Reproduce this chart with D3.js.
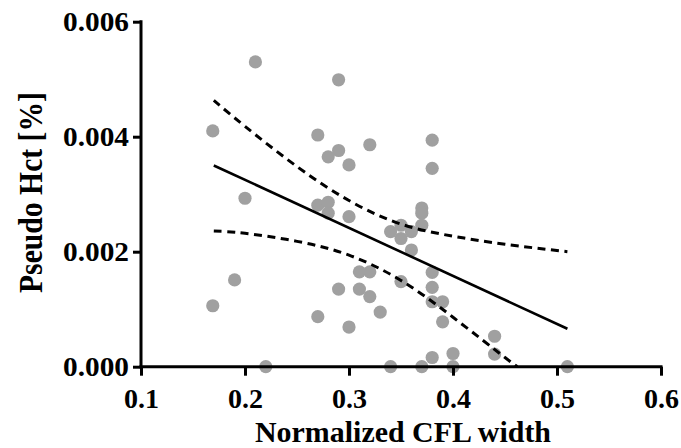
<!DOCTYPE html>
<html>
<head>
<meta charset="utf-8">
<script src="https://cdn.jsdelivr.net/npm/d3@7"></script>
<style>
  html, body { margin: 0; padding: 0; background: #fff; }
  svg { display: block; }
  text { font-family: "Liberation Serif", "Times New Roman", serif; font-weight: bold; fill: #000; }
</style>
</head>
<body>
<svg id="chart" width="681" height="448"></svg>
<script>
// ---- data ----
const xValues = [0.169,0.169,0.190,0.200,0.210,0.220,0.270,0.270,0.270,0.280,0.280,0.280,
  0.290,0.290,0.290,0.300,0.300,0.300,0.310,0.310,0.320,0.320,0.320,0.330,0.340,0.340,
  0.350,0.350,0.350,0.360,0.360,0.370,0.370,0.370,0.370,0.380,0.380,0.380,0.380,0.380,
  0.380,0.390,0.390,0.400,0.400,0.440,0.440,0.510];
const yValues = [0.00410,0.00106,0.00151,0.00293,0.00530,0.0,0.00403,0.00281,0.00087,0.00365,0.00286,0.00267,
  0.00499,0.00376,0.00135,0.00351,0.00261,0.00069,0.00165,0.00135,0.00386,0.00165,0.00122,0.00095,0.00235,0.0,
  0.00246,0.00223,0.00148,0.00235,0.00203,0.00276,0.00267,0.00246,0.0,0.00394,0.00345,0.00164,0.00138,0.00113,
  0.00016,0.00113,0.00078,0.00023,0.0,0.00053,0.00022,0.0];
const fitX = [0.17, 0.51];
const fitY = [0.00350, 0.00066];
const upperX = [0.17,0.20,0.25,0.30,0.35,0.40,0.45,0.51];
const upperY = [0.00463,0.00418,0.00348,0.00289,0.00248,0.00227,0.00213,0.00200];
const lowerX = [0.17,0.20,0.25,0.30,0.35,0.40,0.45,0.462];
const lowerY = [0.00236,0.00232,0.00218,0.00194,0.00150,0.00086,0.00016,0.0];
const xTicks = [0.1,0.2,0.3,0.4,0.5,0.6];
const yTicks = [0,0.002,0.004,0.006];
const xTitle = "Normalized CFL width";
const yTitle = "Pseudo Hct [%]";

// ---- chart ----
const svg = d3.select("#chart");
const x = d3.scaleLinear().domain([0.1, 0.6]).range([141, 661]);
const y = d3.scaleLinear().domain([0, 0.006]).range([366.7, 21.7]);

// points
const pts = xValues.map((v, i) => [v, yValues[i]]);
svg.append("g").selectAll("circle").data(pts).join("circle")
  .attr("cx", d => x(d[0])).attr("cy", d => y(d[1])).attr("r", 6.6)
  .attr("fill", "#a0a0a0");

// axes
const xAxis = svg.append("g").attr("transform", `translate(0,${y(0)})`)
  .call(d3.axisBottom(x).tickValues(xTicks).tickSize(9).tickPadding(4).tickFormat(d3.format(".1f")));
const yAxis = svg.append("g").attr("transform", `translate(${x(0.1)},0)`)
  .call(d3.axisLeft(y).tickValues(yTicks).tickSize(8).tickPadding(5).tickFormat(d3.format(".3f")));
[xAxis, yAxis].forEach(g => {
  g.select(".domain").attr("stroke", "#000").attr("stroke-width", 3);
  g.selectAll(".tick line").attr("stroke", "#000").attr("stroke-width", 3);
});
xAxis.select(".domain").attr("d", `M${x(0.1)-1.5},0H${x(0.6)+1.5}`);
yAxis.select(".domain").attr("d", `M0,${y(0)+1.5}V${y(0.006)-1.5}`);
xAxis.selectAll(".tick text").attr("font-size", 28).attr("dy", "0.71em").attr("y", 21)
  .style("font-family", '"Liberation Serif", serif').style("font-weight", "bold");
yAxis.selectAll(".tick text").attr("font-size", 27).attr("x", -12)
  .attr("textLength", 66).attr("lengthAdjust", "spacingAndGlyphs")
  .style("font-family", '"Liberation Serif", serif').style("font-weight", "bold");

// lines
const line = d3.line().x(d => x(d[0])).y(d => y(d[1]));
const curve = d3.line().x(d => x(d[0])).y(d => y(d[1])).curve(d3.curveNatural);
svg.append("path").datum(fitX.map((v, i) => [v, fitY[i]]))
  .attr("d", line).attr("fill", "none").attr("stroke", "#000").attr("stroke-width", 2.6);
svg.append("path").datum(upperX.map((v, i) => [v, upperY[i]]))
  .attr("d", curve).attr("fill", "none").attr("stroke", "#000").attr("stroke-width", 3)
  .attr("stroke-dasharray", "8,5.5");
svg.append("path").datum(lowerX.map((v, i) => [v, lowerY[i]]))
  .attr("d", curve).attr("fill", "none").attr("stroke", "#000").attr("stroke-width", 3)
  .attr("stroke-dasharray", "8,5.5");

// titles
svg.append("text").attr("x", 403).attr("y", 442).attr("text-anchor", "middle")
  .attr("font-size", 29).attr("textLength", 296).attr("lengthAdjust", "spacingAndGlyphs")
  .text(xTitle);
svg.append("text").attr("transform", "translate(42,192.5) rotate(-90)").attr("text-anchor", "middle")
  .attr("font-size", 34).attr("textLength", 201).attr("lengthAdjust", "spacingAndGlyphs")
  .text(yTitle);
</script>
</body>
</html>
